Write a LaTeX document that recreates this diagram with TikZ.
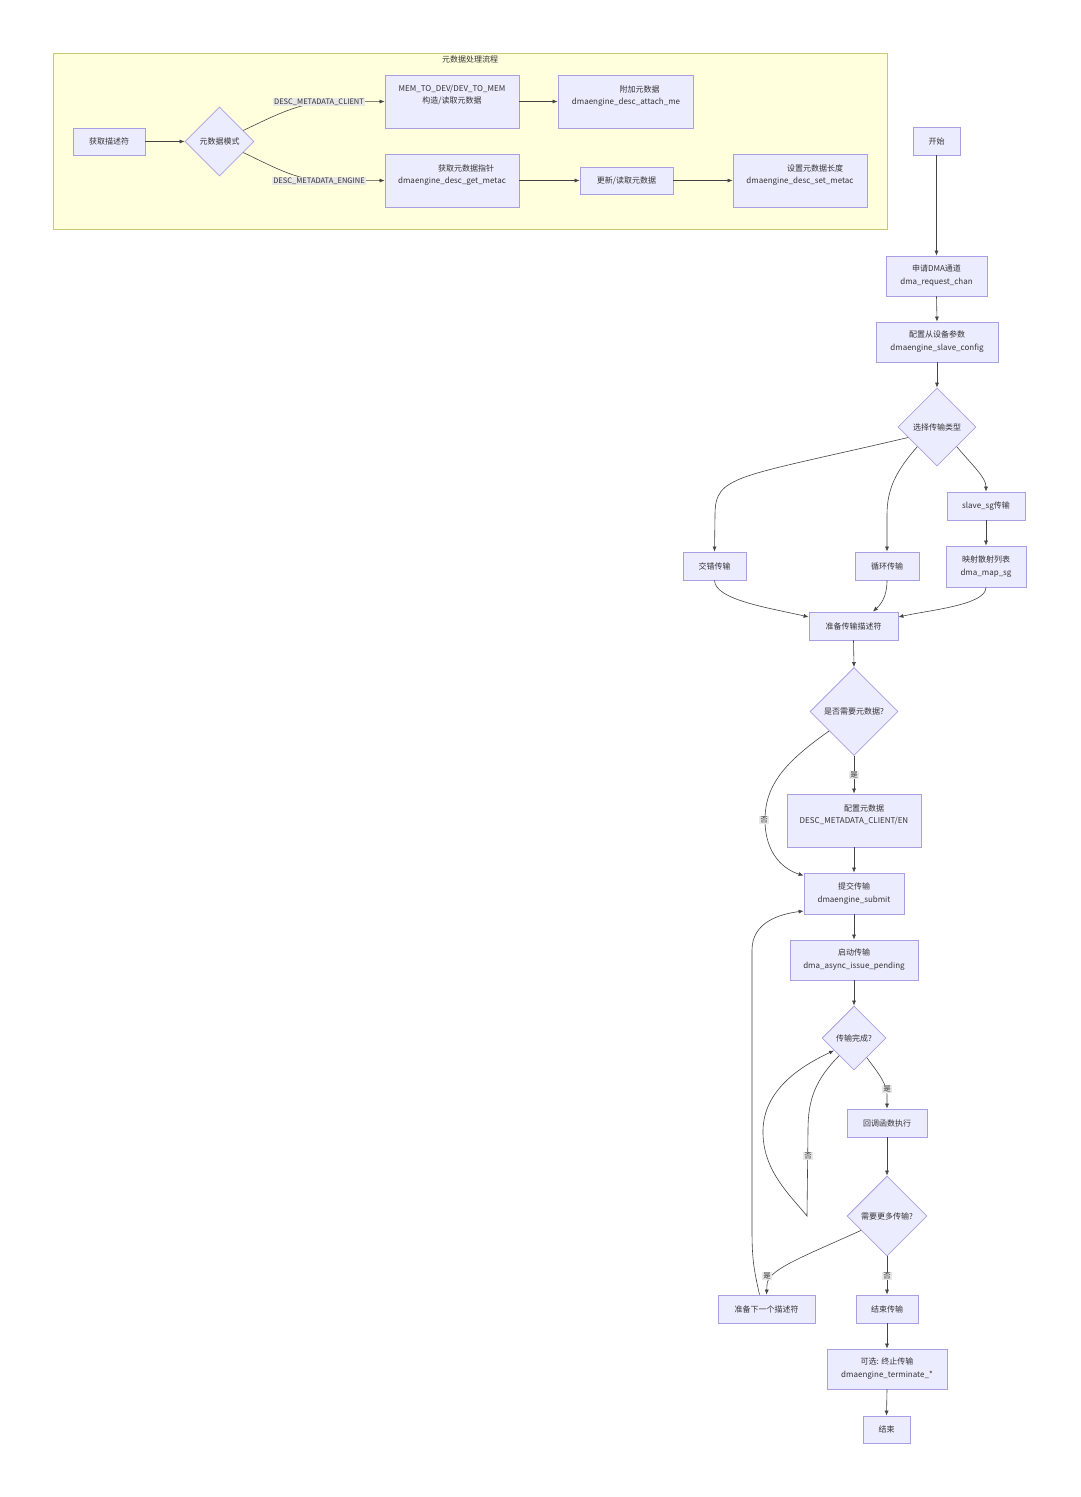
\documentclass[tikz,border=0pt]{standalone}
\usepackage{fontspec}
\setmainfont{Noto Sans CJK SC}
\usetikzlibrary{shapes.geometric,arrows.meta,calc}
\definecolor{nodefill}{HTML}{ECECFF}
\definecolor{nodeline}{HTML}{AB9FE3}
\definecolor{edgecol}{HTML}{444444}
\definecolor{sgfill}{HTML}{FFFFDE}
\definecolor{sgline}{HTML}{C8C870}
\definecolor{lblfill}{HTML}{E8E8E8}
\definecolor{txt}{HTML}{333333}
\tikzset{
 box/.style={draw=nodeline, fill=nodefill, line width=0.8pt, inner sep=0pt, align=center, text=txt, font=\fontsize{8}{13}\selectfont},
 dia/.style={diamond, aspect=1, draw=nodeline, fill=nodefill, line width=0.8pt, inner sep=0pt, text=txt, font=\fontsize{8}{13}\selectfont},
 txtn/.style={inner sep=0pt, text=txt, font=\fontsize{8}{13}\selectfont},
 elabel/.style={fill=lblfill, inner sep=1pt, text=txt, font=\fontsize{7.5}{9}\selectfont},
 conn/.style={draw=edgecol, line width=0.6pt, -{Latex[length=5pt,width=4pt]}},
}
\begin{document}
\begin{tikzpicture}[x=1pt,y=-1pt]
\fill[white] (0,0) rectangle (1080,1497);
\useasboundingbox (0,0) rectangle (1080,1497);
% subgraph
\draw[sgline, fill=sgfill, line width=0.8pt] (53,53) rectangle (887,229);
\node[txtn] (sgtitle) at (470,59) {元数据处理流程};
\node[box, minimum width=72pt, minimum height=27pt] (getdesc) at (109,141.5) {获取描述符};
\node[dia, minimum width=69pt, minimum height=69pt] (modes) at (219.5,141.5) {元数据模式};
\node[box, minimum width=134pt, minimum height=53pt] (mem) at (452,101.5) {};
\node[txtn] (memt1) at (452,89) {MEM\_TO\_DEV/DEV\_TO\_MEM};
\node[txtn] (memt2) at (452,101) {构造/读取元数据};
\node[box, minimum width=135pt, minimum height=53pt] (attach) at (625.5,101.5) {};
\node[txtn] (att1) at (639.5,89) {附加元数据};
\node[txtn] (att2) at (626,102) {dmaengine\_desc\_attach\_me};
\node[box, minimum width=134pt, minimum height=53pt] (getptr) at (452,180.5) {};
\node[txtn] (gp1) at (466,168) {获取元数据指针};
\node[txtn] (gp2) at (452,181) {dmaengine\_desc\_get\_metac};
\node[box, minimum width=93pt, minimum height=27pt] (upd) at (626.5,180.5) {更新/读取元数据};
\node[box, minimum width=134pt, minimum height=53pt] (setlen) at (800,180.5) {};
\node[txtn] (sl1) at (815,168) {设置元数据长度};
\node[txtn] (sl2) at (800,181) {dmaengine\_desc\_set\_metac};
% main flow
\node[box, minimum width=47pt, minimum height=28pt] (start) at (936.5,141) {开始};
\node[box, minimum width=101pt, minimum height=40pt] (req) at (936.5,276) {申请DMA通道\\dma\_request\_chan};
\node[box, minimum width=122pt, minimum height=40pt] (cfg) at (937,342) {配置从设备参数\\dmaengine\_slave\_config};
\node[dia, minimum width=78pt, minimum height=78pt] (sel) at (937,427) {选择传输类型};
\node[box, minimum width=78pt, minimum height=28pt] (sg) at (986,506) {slave\_sg传输};
\node[box, minimum width=80pt, minimum height=41pt] (map) at (986,566.5) {映射散射列表\\dma\_map\_sg};
\node[box, minimum width=63pt, minimum height=28pt] (il) at (714.5,566) {交错传输};
\node[box, minimum width=64pt, minimum height=28pt] (cyc) at (887,566) {循环传输};
\node[box, minimum width=89pt, minimum height=28pt] (prep) at (853.5,626) {准备传输描述符};
\node[dia, minimum width=88pt, minimum height=88pt] (need) at (854,711.5) {是否需要元数据?};
\node[box, minimum width=134pt, minimum height=53pt] (mdcfg) at (854,820.5) {};
\node[txtn] (md1) at (864,808) {配置元数据};
\node[txtn] (md2) at (854,821) {DESC\_METADATA\_CLIENT/EN};
\node[box, minimum width=100pt, minimum height=41pt] (submit) at (854,893.5) {提交传输\\dmaengine\_submit};
\node[box, minimum width=128pt, minimum height=40pt] (issue) at (854,960) {启动传输\\dma\_async\_issue\_pending};
\node[dia, minimum width=64pt, minimum height=64pt] (done) at (854,1038) {传输完成?};
\node[box, minimum width=80pt, minimum height=28pt] (cb) at (887,1123) {回调函数执行};
\node[dia, minimum width=80pt, minimum height=80pt] (more) at (887,1216) {需要更多传输?};
\node[box, minimum width=97pt, minimum height=28pt] (next) at (766.5,1309) {准备下一个描述符};
\node[box, minimum width=62pt, minimum height=28pt] (endx) at (887,1309) {结束传输};
\node[box, minimum width=120pt, minimum height=40pt] (term) at (887,1369) {可选: 终止传输\\dmaengine\_terminate\_*};
\node[box, minimum width=47pt, minimum height=27pt] (fin) at (886.5,1429.5) {结束};
\coordinate (loopc) at (807,1216);
% connectors subgraph
\draw[conn] (getdesc.east) -- (modes.west);
\draw[conn] (modes.25) .. controls (270,118) and (295,104) .. (325,102) -- (mem.west);
\draw[conn] (modes.-25) .. controls (270,165) and (295,180) .. (325,181) -- (getptr.west);
\draw[conn] (mem.east) -- (attach.west);
\draw[conn] (getptr.east) -- (upd.west);
\draw[conn] (upd.east) -- (setlen.west);
\node[elabel] (lcl) at (319,102) {DESC\_METADATA\_CLIENT};
\node[elabel] (len) at (319,181) {DESC\_METADATA\_ENGINE};
% connectors main
\draw[conn] (start.south) -- (req.north);
\draw[conn] (req.south) -- (cfg.north);
\draw[conn] (cfg.south) -- (sel.north);
\draw[conn] (sel.200) .. controls (735,478) and (715,475) .. (715,515) -- (il.north);
\draw[conn] (sel.south west) .. controls (895,472) and (887,490) .. (887,515) -- (cyc.north);
\draw[conn] (sel.south east) .. controls (975,468) and (986,478) .. (sg.north);
\draw[conn] (sg.south) -- (map.north);
\draw[conn] (il.south) .. controls (715,600) and (770,608) .. ($(prep.west)+(0,-9)$);
\draw[conn] (cyc.south) .. controls (887,598) and (880,605) .. ($(prep.north)+(19.5,0)$);
\draw[conn] (map.south) .. controls (986,605) and (930,610) .. ($(prep.east)+(0,-9)$);
\draw[conn] (prep.south) -- (need.north);
\draw[conn] (need.south) -- (mdcfg.north);
\draw[conn] (need.218) .. controls (785,762) and (765,785) .. (765,820) .. controls (765,855) and (785,870) .. ($(submit.west)+(0,-18)$);
\draw[conn] (mdcfg.south) -- (submit.north);
\draw[conn] (submit.south) -- (issue.north);
\draw[conn] (issue.south) -- (done.north);
\draw[conn] (done.-57) .. controls (880,1075) and (887,1085) .. (887,1095) -- (cb.north);
\draw[conn] (done.230) .. controls (815,1080) and (808,1100) .. (808,1130) -- (loopc) .. controls (790,1195) and (762,1170) .. (763,1130) .. controls (764,1085) and (810,1062) .. (done.212);
\draw[conn] (cb.south) -- (more.north);
\draw[conn] (more.209) .. controls (800,1258) and (767,1270) .. (767,1285) -- (next.north);
\draw[conn] (more.south) -- (endx.north);
\draw[conn] ($(next.north)+(-7,0)$) .. controls (754,1270) and (752,1260) .. (752,1230) -- (752,950) .. controls (752,922) and (780,914) .. ($(submit.west)+(0,17.5)$);
\draw[conn] (endx.south) -- (term.north);
\draw[conn] (term.south) -- (fin.north);
\node[elabel] (lyes1) at (854,775) {是};
\node[elabel] (lno1) at (764,820) {否};
\node[elabel] (lyes2) at (887,1089) {是};
\node[elabel] (lno2) at (808,1156) {否};
\node[elabel] (lyes3) at (767,1276) {是};
\node[elabel] (lno3) at (887,1276) {否};
\end{tikzpicture}
\end{document}
